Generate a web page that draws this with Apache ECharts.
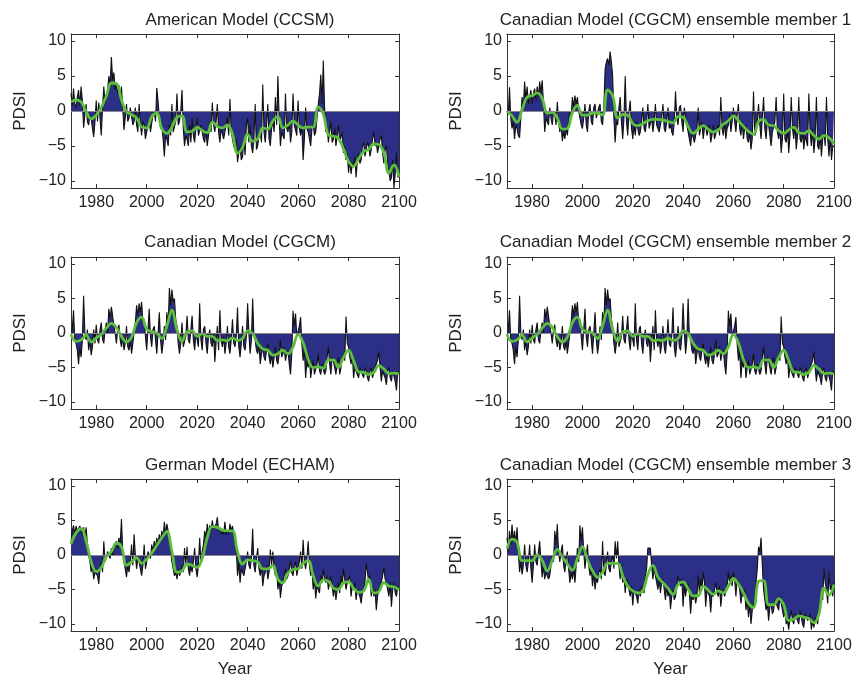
<!DOCTYPE html>
<html>
<head>
<meta charset="utf-8">
<script src="https://cdn.jsdelivr.net/npm/echarts@6/dist/echarts.min.js"></script>
<style>
html,body{margin:0;padding:0;background:#fff;}
#c{width:857px;height:679px;}
</style>
</head>
<body>
<div id="c"></div>
<script>
// ---- data (PDSI) ----
const YEAR0 = 1970;          // first year of every series
const RAW_STEP = 0.5;        // years between raw values (two per year)
const SMOOTH_STEP = 2;       // years between smoothed values
const xTickYears = [1980, 2000, 2020, 2040, 2060, 2080, 2100];
const yTickValues = [-10, -5, 0, 5, 10];

// raw PDSI, half-year steps, one row per decade
const ccsmRaw = [
 2.5,0.8, 3.2,1.0, 0.5,2.0, 3.0,0.8, 3.5,1.5, -2.4,-0.5, 1.0,-1.5, -2.0,-0.5, -1.0,-2.5, -3.7,-1.5,
 1.5,-1.5, 1.2,-1.0, -3.5,0.5, 3.5,1.0, 2.0,3.0, 5.0,3.5, 7.7,4.5, 5.5,3.0, 4.0,2.5, 3.7,2.0,
 3.5,0.5, -2.7,-1.0, 1.0,-1.5, -1.0,0.5, 0.7,-2.0, -1.5,0.5, -2.0,-3.0, 1.0,-2.0, -3.5,-1.5, -2.0,-4.0,
 -4.0,-2.0, -1.5,-3.0, -3.0,-0.5, 0.0,-1.5, 3.3,1.5, -1.0,-2.5, -2.0,-4.0, -6.5,-3.5, -4.0,-5.0, -2.0,-3.5,
 1.0,-3.0, -3.0,-1.5, 2.5,-2.0, -1.5,0.0, 3.0,-2.5, -5.0,-3.5, -4.0,-5.0, -2.0,-4.5, -1.0,-3.5, -4.5,-2.5,
 -1.0,-3.5, -3.5,-2.0, -2.0,-4.0, -4.5,-2.5, -5.0,-3.5, -1.5,-3.0, 1.2,-2.0, -3.0,-1.5, 1.0,-3.0, -4.5,-2.5,
 -2.5,-4.0, -4.0,-2.0, -1.0,-3.5, 1.7,-3.0, -3.0,-5.0, -5.5,-4.0, -7.3,-6.0, -5.0,-7.0, -6.5,-4.0, -6.3,-2.0,
 -1.0,-4.5, -2.0,-5.0, -6.0,-4.0, 1.0,-5.5, -5.0,-3.5, -3.0,-4.5, 3.8,-3.0, -4.5,-2.0, 1.0,-4.0, -5.0,-2.5,
 -1.5,-3.0, 2.0,-2.0, 5.0,-1.0, -5.0,-3.0, -3.0,-4.0, 2.5,-2.5, -3.0,-1.5, -4.5,-3.0, 2.5,-2.0, -2.0,-3.5,
 1.5,-2.5, -3.5,-2.0, -7.0,-4.0, 0.5,-2.5, -3.0,-4.0, -5.0,-2.5, -2.0,-3.5, -3.0,-1.0, 1.0,2.5, 5.2,1.0,
 7.2,0.5, -3.0,-2.0, -4.5,-3.0, -1.5,-4.5, -4.0,-2.5, -5.0,-3.5, -2.0,-4.5, -4.5,-3.0, -6.0,-5.0, -7.0,-6.0,
 -8.8,-7.0, -9.0,-7.5, -8.0,-6.5, -9.5,-7.0, -6.0,-7.5, -7.0,-5.0, -4.5,-6.5, -6.5,-4.5, -5.0,-6.5, -5.5,-4.0,
 -3.0,-5.0, -4.5,-6.0, -6.0,-4.0, -3.5,-6.0, -7.5,-5.5, -5.0,-7.5, -8.5,-10.0, -9.5,-7.0, -11.0,-9.0, -6.0,-9.5,
 -9.0
];
const ccsmSmooth = [
 1.3, 1.6, 1.3, -0.1, -1.1, -0.6, 0.5, 2.1, 4.0, 3.9,
 1.6, -0.1, -0.5, -1.0, -2.3, -2.4, -0.8, -0.3, -2.5, -3.2,
 -2.3, -0.9, -0.7, -3.0, -2.9, -2.3, -2.8, -3.1, -1.6, -2.2,
 -2.4, -2.0, -3.3, -6.0, -5.2, -3.3, -4.3, -4.0, -2.4, -2.6,
 -1.4, -0.8, -2.4, -2.0, -1.4, -2.0, -2.4, -2.3, -2.3, 0.6,
 -0.4, -3.4, -3.6, -3.9, -5.4, -7.2, -7.9, -6.8, -5.8, -5.5,
 -4.7, -4.8, -6.0, -8.9, -7.7, -9.4
];

const cgcm1Raw = [
 0.0,-0.5, 3.4,-1.0, -2.5,-1.5, -4.0,-2.0, -2.5,-3.5, -3.8,-1.0, 2.0,0.5, 4.2,1.5, 3.5,1.0, 2.0,3.0,
 1.0,2.5, 3.2,1.5, 3.5,2.0, 4.2,2.5, 4.4,1.0, -3.0,-1.0, -1.0,-2.0, 0.5,-1.0, -2.0,0.0, -0.5,-2.0,
 1.3,-1.5, -3.0,-2.0, -4.3,-3.0, -4.0,-2.5, -3.5,-1.5, 0.0,-1.0, 2.0,0.5, 2.2,1.0, 2.0,0.0, -1.0,-2.0,
 -2.5,-1.0, 1.0,-2.0, -3.0,0.0, 1.0,-1.5, -2.0,0.5, 1.0,-1.0, -1.0,0.5, 1.0,-1.5, -2.0,0.5, 6.0,7.0,
 7.5,6.5, 8.5,7.0, 5.0,-1.0, -4.5,-1.5, -2.0,0.5, 2.0,-1.5, -4.0,-1.0, 5.0,-1.5, -3.5,0.0, 1.5,-2.5,
 -4.0,-2.0, -3.5,-1.5, -2.5,-3.5, -3.0,-1.5, 0.5,-2.5, -3.0,-1.5, 1.0,-2.5, -2.5,-1.0, -3.0,-1.5, 1.0,-2.0,
 -2.0,-3.0, -3.0,-1.0, 1.0,-2.5, -3.0,-1.5, 0.5,-2.5, -2.0,-3.0, -3.5,-1.5, 2.8,-1.0, -2.0,0.5, 0.8,-1.5,
 -3.0,0.5, 0.5,-2.0, -3.0,-4.0, -5.0,-3.0, -3.0,-4.5, -4.5,-2.5, 0.5,-3.5, -2.5,-1.5, -4.0,-2.5, -2.0,-3.5,
 -3.5,-2.0, -4.5,-3.5, -2.0,-4.0, -4.0,-2.5, -2.0,-3.5, 2.0,-2.5, -3.5,-1.5, -4.0,-2.5, -2.0,-0.5, -3.0,-1.5,
 0.5,-1.5, -3.0,-0.5, 1.0,-2.5, -3.5,-1.5, -4.0,-2.5, -2.0,-4.0, -4.5,-3.0, -5.5,-4.0, 2.8,-3.5, -3.0,-1.5,
 1.0,-2.0, -4.0,-1.0, 2.0,-2.5, -4.0,-1.5, -2.0,-3.5, -5.0,-3.0, -3.0,-1.5, 2.0,-3.0, -4.0,-2.5, -6.0,-4.0,
 2.5,-4.0, -4.5,-2.5, -6.0,-3.5, 2.0,-2.5, -4.0,-2.0, -5.5,-3.5, 2.0,-4.0, -4.5,-3.0, -5.5,-3.5, -3.5,-5.0,
 2.5,-3.0, -5.0,-2.5, -6.0,-4.0, 2.0,-5.0, -5.5,-3.5, -6.5,-4.0, -3.0,-5.0, 2.0,-4.0, -6.5,-3.5, -7.0,-5.0,
 -5.0
];
const cgcm1Smooth = [
 0.0, -0.7, -1.6, 0.2, 2.0, 2.2, 2.6, 1.8, -0.3, -0.2,
 -1.0, -2.6, -2.5, -0.2, 0.8, -0.6, -0.6, -0.3, -0.3, -0.6,
 3.0, 2.2, -1.0, -0.5, -0.6, -1.8, -2.1, -1.8, -1.4, -1.2,
 -1.2, -1.3, -1.5, -1.7, -0.8, -0.9, -2.2, -3.2, -2.6, -2.1,
 -2.6, -3.0, -2.7, -1.9, -1.4, -0.7, -1.4, -2.2, -2.9, -3.3,
 -1.5, -1.2, -2.0, -2.1, -2.8, -3.2, -2.7, -2.3, -3.1, -3.2,
 -2.8, -3.5, -4.0, -3.5, -3.8, -4.7
];

const cgcmRaw = [
 -0.5,0.5, 3.3,-1.0, -1.5,-2.5, -4.5,-2.0, -3.5,-1.0, 5.4,0.0, -1.0,0.5, -2.5,-1.0, -3.2,-2.0, 0.5,-1.5,
 1.2,-1.0, -1.5,0.5, 1.5,-1.0, -1.5,0.5, 1.5,0.0, 3.5,2.0, 3.8,2.5, 1.0,0.0, -1.5,0.5, 1.2,-1.0,
 -2.0,-0.5, -2.5,-1.5, 1.0,-2.0, -2.5,-1.0, -3.0,-1.5, 0.0,1.5, 4.0,2.5, 4.3,3.0, 4.5,1.5, 2.0,-0.5,
 -2.5,0.5, 3.5,-0.5, -2.0,0.5, 1.0,-1.0, -3.0,0.0, 3.0,-1.0, -3.0,-1.5, 1.0,-1.0, 3.0,1.0, 6.5,4.0,
 6.3,4.5, 5.0,2.0, 1.0,-1.5, -3.0,-1.5, 1.5,-2.0, -2.0,-0.5, 2.5,-1.0, -1.5,0.5, 2.5,-1.0, -2.5,0.0,
 -1.0,-2.0, 4.3,-1.0, -2.5,0.5, 1.0,-1.5, -3.0,-0.5, 0.5,-1.5, -2.0,0.0, -4.2,-1.5, 1.0,-2.5, 3.3,-1.0,
 -2.0,-0.5, -3.0,-1.5, 1.0,-2.0, -3.0,-1.0, 2.0,-1.5, -2.0,-0.5, 3.7,-2.0, -3.5,-1.5, 1.0,-2.0, -2.5,-0.5,
 4.3,0.0, -3.0,-1.0, 5.0,-0.5, -1.0,-2.5, -3.0,-1.5, -4.5,-3.0, -2.0,-3.5, -4.0,-2.5, -1.5,-3.5, -4.5,-3.0,
 -5.0,-3.5, -2.0,-4.0, -4.5,-3.0, -1.0,-3.5, -3.0,-2.0, -4.0,-3.0, -2.5,-4.5, -6.0,-3.0, 3.2,1.0, 2.8,-0.5,
 -0.5,1.0, 2.3,-1.5, -4.0,-2.5, -6.5,-4.0, -5.0,-3.5, -6.5,-5.0, -4.0,-6.0, -6.0,-4.5, -3.0,-5.5, -6.0,-4.5,
 -4.5,-6.0, -5.5,-3.5, -2.0,-4.5, -6.0,-3.5, -4.0,-5.0, -6.0,-4.5, -3.5,-6.0, -5.0,-3.5, -3.0,-4.0, 2.4,-1.5,
 -2.0,-3.5, -4.5,-3.0, -6.5,-5.0, -5.0,-6.0, -6.5,-5.0, -5.0,-6.0, -6.5,-5.0, -5.5,-6.5, -7.0,-5.5, -5.0,-6.5,
 -6.5,-5.0, -5.0,-4.0, -2.7,-5.0, -7.0,-5.5, -5.5,-6.5, -7.5,-5.5, -5.0,-6.5, -7.0,-5.5, -5.5,-7.0, -8.3,-5.5,
 -6.0
];
const cgcmSmooth = [
 -0.2, -1.2, -1.0, -0.3, -1.3, -0.7, -0.2, 0.7, 1.4, 0.8,
 -0.5, -1.3, -0.6, 1.5, 2.3, 0.5, 0.2, 0.0, -0.8, 1.0,
 3.3, 0.5, -1.2, 0.2, 0.3, -0.5, -0.1, -0.5, -0.5, -1.1,
 -1.0, -1.1, -0.7, -1.1, -0.8, 0.3, -0.1, -1.5, -2.3, -2.5,
 -3.2, -3.0, -2.5, -3.0, -2.0, -0.2, -1.4, -3.8, -5.0, -4.9,
 -5.1, -3.9, -3.9, -5.0, -3.5, -2.5, -4.0, -5.6, -5.7, -6.0,
 -5.7, -4.7, -5.2, -5.9, -5.8, -5.9
];
// ensemble member 2 is drawn identically to the Canadian Model panel
const cgcm2Raw = cgcmRaw;
const cgcm2Smooth = cgcmSmooth;

const echamRaw = [
 1.8,3.5, 4.3,3.0, 4.2,3.5, 3.5,4.2, 4.0,3.0, 4.0,2.5, 4.0,1.5, 0.0,-1.0, -2.5,-1.5, -3.5,-2.5,
 -2.5,-3.0, -4.2,-2.0, -1.0,-2.5, 2.0,-1.0, -1.0,0.5, 0.5,-0.5, 1.0,0.0, 0.0,1.5, 2.0,1.0, 2.5,1.5,
 5.2,0.5, -1.0,-2.0, -3.2,-1.5, -2.5,-1.0, 1.5,-1.5, 3.0,0.0, -2.0,-0.5, -1.0,-2.0, -3.0,-1.5, 1.5,-2.0,
 -1.0,0.5, 0.5,-0.5, 1.5,0.5, 2.0,1.0, 2.5,1.5, 3.0,2.0, 3.5,2.5, 4.8,3.0, 4.5,3.5, 2.0,0.5,
 -1.0,-2.0, -3.0,-2.5, -3.5,-2.0, -3.0,-2.5, -1.5,-2.5, 1.0,-1.5, 1.2,-2.0, -3.0,-1.5, -2.5,-1.0, 1.0,-2.0,
 -3.2,-1.5, 2.5,-1.0, 0.5,1.5, 3.5,2.5, 4.5,3.0, 4.3,3.5, 5.0,3.8, 4.0,4.5, 5.5,3.5, 4.0,3.0,
 3.5,3.0, 4.8,3.0, 3.5,3.0, 4.5,3.5, 4.2,3.0, 2.0,1.0, -3.0,-1.0, -4.0,-2.0, -2.0,-3.0, -3.0,-1.0,
 0.5,-1.5, -2.0,-0.5, 3.8,-1.5, -2.5,-0.5, 1.0,-2.0, -3.0,-1.5, -4.5,-3.0, -2.5,-1.5, -3.5,-2.5, 0.8,-1.5,
 0.5,-2.0, -3.0,-2.0, -5.0,-3.5, -6.2,-4.5, -4.0,-3.0, -2.0,-3.5, -3.0,-2.0, -0.8,-2.5, -3.0,-1.5, -1.0,-3.0,
 -2.0,-1.0, 0.5,-2.0, 2.2,-1.0, -2.0,-0.5, 2.0,-1.5, -3.0,-2.0, -5.0,-3.5, -6.3,-4.5, -4.5,-5.5, -3.0,-4.0,
 -2.0,-3.5, -4.0,-3.0, -5.0,-4.0, -3.0,-4.5, -6.0,-4.5, -6.5,-5.0, -4.0,-5.5, -3.0,-4.5, -2.0,-3.5, -5.0,-4.0,
 -4.0,-3.0, -6.0,-4.5, -5.0,-4.0, -6.5,-5.0, -5.0,-6.0, -7.0,-5.5, -5.0,-4.0, -1.2,-2.5, -4.0,-3.0, -6.0,-4.5,
 -6.0,-5.0, -8.0,-6.0, -5.0,-4.5, -4.0,-3.0, -1.8,-3.5, -4.0,-5.0, -6.0,-4.0, -7.5,-5.0, -4.0,-5.5, -6.0,-4.5,
 -5.0
];
const echamSmooth = [
 1.6, 3.2, 3.8, 2.0, -1.0, -2.4, -1.8, -0.2, 0.5, 1.7,
 1.2, -1.5, -1.0, -0.4, -1.2, -0.6, 0.3, 1.4, 2.5, 3.4,
 0.5, -2.5, -2.3, -1.3, -1.5, -1.8, -0.5, 2.5, 4.1, 4.0,
 3.6, 3.5, 3.5, 0.5, -1.3, -0.7, -0.8, -1.0, -2.0, -2.0,
 -1.5, -3.5, -4.0, -2.6, -2.1, -2.0, -1.2, -0.8, -3.0, -4.5,
 -3.6, -3.8, -4.8, -5.0, -4.0, -3.9, -4.8, -5.4, -5.2, -3.5,
 -5.5, -5.3, -4.0, -4.5, -4.6, -5.0
];

const cgcm3Raw = [
 2.5,0.5, 3.5,1.5, 4.4,2.0, 3.5,1.5, 4.0,0.5, -2.5,-1.0, -2.8,-1.5, 1.5,-1.5, -2.5,-1.0, 1.5,-2.0,
 -4.0,-1.5, 1.5,-1.0, -1.5,0.5, 2.0,-1.0, -3.2,-1.5, -3.5,-2.5, -2.5,-3.5, -3.0,-1.5, 0.0,-1.0, 3.5,1.5,
 4.5,0.5, -1.0,0.5, 1.5,-1.5, -2.5,-0.5, 0.5,-2.0, -4.0,-2.5, -3.5,-2.0, -4.0,-1.5, 1.0,-1.0, 4.3,2.0,
 4.0,0.5, -2.0,0.0, 1.5,-1.5, -3.0,-2.0, -4.5,-2.5, -5.0,-3.5, -4.0,-2.5, -2.0,-3.5, 2.0,-2.5, -3.0,-1.5,
 0.5,-2.0, -2.5,-1.0, 0.0,-2.0, 2.0,-0.5, 2.0,-1.5, -3.5,-2.0, -4.0,-3.0, -5.5,-3.5, -4.0,-5.0, -6.0,-4.5,
 -7.3,-5.0, -5.0,-6.0, -7.0,-5.0, -6.0,-4.5, -4.5,-5.5, -3.0,-2.0, 1.0,0.8, 1.0,-1.5, -3.5,-2.0, -3.0,-4.0,
 -5.0,-3.5, -5.5,-4.0, -3.5,-5.0, -6.5,-4.5, -6.0,-5.0, -7.8,-6.0, -5.0,-6.5, -6.0,-4.5, -3.0,-4.0, -4.5,-3.5,
 -7.5,-4.5, -6.0,-4.5, -4.0,-5.5, -8.5,-6.0, -6.5,-5.5, -7.0,-6.0, -3.0,-5.5, -3.5,-5.0, -2.5,-4.0, -7.5,-5.0,
 -5.0,-6.0, -8.3,-5.5, -6.0,-5.0, -4.0,-5.5, -6.0,-4.5, -7.5,-5.5, -5.0,-6.0, -6.0,-4.5, -2.5,-4.0, -3.0,-4.5,
 -2.5,-3.5, -6.0,-3.5, -4.0,-5.0, -7.0,-5.5, -6.0,-5.0, -8.0,-6.5, -9.0,-7.0, -10.0,-8.0, -8.0,-6.5, -4.0,-2.0,
 1.2,0.5, 2.5,-1.5, -5.0,-6.5, -8.0,-7.0, -9.5,-7.5, -7.0,-8.5, -8.0,-6.5, -6.5,-7.5, -8.0,-6.0, -7.0,-8.0,
 -9.0,-8.0, -10.0,-9.5, -10.8,-9.0, -8.0,-9.5, -10.0,-8.5, -8.5,-9.5, -10.0,-8.0, -9.0,-10.0, -10.5,-8.5, -8.5,-9.5,
 -9.5,-8.5, -10.8,-9.5, -10.5,-9.0, -9.0,-10.0, -8.0,-7.0, -5.0,-6.5, -2.0,-4.0, -5.0,-7.0, -2.5,-5.0, -4.5,-6.0,
 -4.0
];
const cgcm3Smooth = [
 0.9, 2.3, 1.8, -0.8, -0.8, -0.8, 0.0, -0.8, -2.3, -0.8,
 0.8, -0.3, -1.3, -2.2, -0.5, 1.2, -0.7, -2.3, -3.2, -2.5,
 -1.2, -1.2, -1.2, -3.0, -4.5, -5.2, -5.5, -5.2, -2.8, -1.5,
 -3.2, -4.0, -4.8, -5.7, -4.3, -3.9, -4.9, -5.9, -5.9, -4.5,
 -5.1, -5.7, -5.2, -5.5, -4.5, -3.4, -4.2, -5.5, -7.0, -7.6,
 -3.8, -3.7, -7.2, -7.2, -6.3, -7.2, -9.5, -9.3, -8.8, -9.0,
 -9.2, -9.8, -8.6, -4.8, -5.8, -4.3
];

const panelTitles = [
 'American Model (CCSM)', 'Canadian Model (CGCM) ensemble member 1',
 'Canadian Model (CGCM)', 'Canadian Model (CGCM) ensemble member 2',
 'German Model (ECHAM)', 'Canadian Model (CGCM) ensemble member 3'
];
const panelRaw = [ccsmRaw, cgcm1Raw, cgcmRaw, cgcm2Raw, echamRaw, cgcm3Raw];
const panelSmooth = [ccsmSmooth, cgcm1Smooth, cgcmSmooth, cgcm2Smooth, echamSmooth, cgcm3Smooth];

// ---- layout ----
const colLeft = [71, 507];
const colWidth = [328, 327];
const rowTop = [34, 257, 479];
const rowHeight = [154, 152, 153];
const titleY = [7, 229, 452];
const FONT = '"Liberation Sans", Arial, Helvetica, sans-serif';
const TXT = '#222';
const AX = '#333';
const FILL = '#2b2f86';
const GREEN = '#5cbf3c';

const fmtMinus = v => (v < 0 ? '\u2212' + Math.abs(v) : String(v));

const grids = [], xAxes = [], yAxes = [], series = [], titles = [];
for (let i = 0; i < 6; i++) {
  const col = i % 2, row = Math.floor(i / 2);
  grids.push({left: colLeft[col], top: rowTop[row], width: colWidth[col], height: rowHeight[row], containLabel: false});
  titles.push({
    text: panelTitles[i], left: colLeft[col] + colWidth[col] / 2, top: titleY[row], textAlign: 'center',
    textStyle: {fontFamily: FONT, fontSize: 17, fontWeight: 'normal', color: TXT}
  });
  const tickCommon = {show: true, inside: true, length: 4, lineStyle: {color: AX, width: 1}};
  xAxes.push({
    type: 'value', gridIndex: i, min: YEAR0, max: 2100, position: 'bottom',
    name: row === 2 ? 'Year' : '', nameLocation: 'middle', nameGap: 30,
    nameTextStyle: {fontFamily: FONT, fontSize: 17, color: TXT},
    axisLine: {show: true, onZero: false, lineStyle: {color: AX, width: 1}},
    axisTick: Object.assign({customValues: xTickYears}, tickCommon),
    axisLabel: {customValues: xTickYears, formatter: v => String(v), fontFamily: FONT, fontSize: 16, color: TXT, margin: 7},
    splitLine: {show: false}
  });
  xAxes.push({
    type: 'value', gridIndex: i, min: YEAR0, max: 2100, position: 'top',
    axisLine: {show: true, onZero: false, lineStyle: {color: AX, width: 1}},
    axisTick: Object.assign({customValues: xTickYears}, tickCommon),
    axisLabel: {show: false}, splitLine: {show: false}
  });
  yAxes.push({
    type: 'value', gridIndex: i, min: -11, max: 11, position: 'left',
    name: 'PDSI', nameLocation: 'middle', nameGap: 42,
    nameTextStyle: {fontFamily: FONT, fontSize: 17, color: TXT},
    axisLine: {show: true, onZero: false, lineStyle: {color: AX, width: 1}},
    axisTick: Object.assign({customValues: yTickValues}, tickCommon),
    axisLabel: {customValues: yTickValues, formatter: fmtMinus, fontFamily: FONT, fontSize: 16, color: TXT, margin: 5},
    splitLine: {show: false}
  });
  yAxes.push({
    type: 'value', gridIndex: i, min: -11, max: 11, position: 'right',
    axisLine: {show: true, onZero: false, lineStyle: {color: AX, width: 1}},
    axisTick: Object.assign({customValues: yTickValues}, tickCommon),
    axisLabel: {show: false}, splitLine: {show: false}
  });
  series.push({
    type: 'line', xAxisIndex: 2 * i, yAxisIndex: 2 * i,
    data: panelRaw[i].map((v, k) => [YEAR0 + k * RAW_STEP, v]),
    showSymbol: false, symbol: 'none', silent: true, animation: false,
    lineStyle: {color: '#111', width: 1.1},
    areaStyle: {color: FILL, opacity: 1, origin: 0},
    markLine: {
      silent: true, symbol: 'none', animation: false, label: {show: false},
      lineStyle: {color: '#888', width: 1, type: 'solid'},
      data: [{yAxis: 0}]
    },
    z: 2
  });
  series.push({
    type: 'line', xAxisIndex: 2 * i, yAxisIndex: 2 * i,
    data: panelSmooth[i].map((v, k) => [YEAR0 + k * SMOOTH_STEP, v]),
    smooth: 0.4, showSymbol: false, symbol: 'none', silent: true, animation: false,
    lineStyle: {color: GREEN, width: 2.8},
    z: 3
  });
}

const chart = echarts.init(document.getElementById('c'), null, {renderer: 'canvas'});
chart.setOption({
  animation: false,
  backgroundColor: '#fff',
  title: titles,
  grid: grids,
  xAxis: xAxes,
  yAxis: yAxes,
  series: series
});
</script>
</body>
</html>
